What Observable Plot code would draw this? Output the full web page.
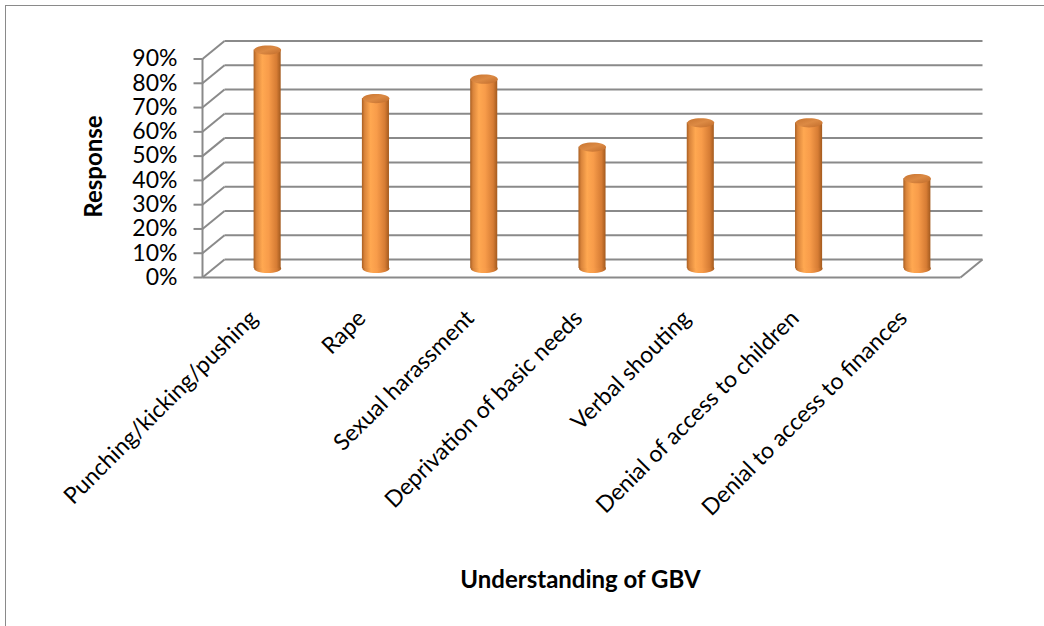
<!DOCTYPE html>
<html>
<head>
<meta charset="utf-8">
<script src="https://cdn.jsdelivr.net/npm/d3@7"></script>
<script src="https://cdn.jsdelivr.net/npm/@observablehq/plot@0.6"></script>
<style>
  html, body { margin: 0; padding: 0; background: #fff; overflow: hidden; }
  #wrap { position: relative; width: 1044px; height: 626px; }
  #border { position: absolute; left: 5px; top: 5px; width: 1100px; height: 700px;
            border-left: 1.5px solid #8a8a8a; border-top: 1.5px solid #8a8a8a; pointer-events: none; }
  svg { display: block; }
</style>
</head>
<body>
<div id="wrap"><div id="border"></div></div>
<script>
// Understanding of GBV — share of responses per category
const categories = [
  "Punching/kicking/pushing",
  "Rape",
  "Sexual harassment",
  "Deprivation of basic needs",
  "Verbal shouting",
  "Denial of access to children",
  "Denial to access to finances"
];
const responses = [0.90, 0.70, 0.78, 0.50, 0.60, 0.60, 0.37];
const yTicks = [0, 0.1, 0.2, 0.3, 0.4, 0.5, 0.6, 0.7, 0.8, 0.9];

const rows = categories.map((category, i) => ({category, i, value: responses[i]}));

// Oblique 3-D box: half depth of the box, expressed in scale units
const DX = 0.1016;   // along x (category bands)
const DY = 0.0371;   // along y (response share)
const HALF = 0.125;  // half width of a cylinder, in bands
const TICK = 0.083;  // length of the axis tick marks, in bands
const X0 = -0.5, X1 = categories.length - 0.5;

// ellipse used for the cylinder caps and bases
const ellipse = {
  draw(ctx) {
    const rx = 13.5, ry = 4.6, k = 0.5523;
    ctx.moveTo(rx, 0);
    ctx.bezierCurveTo(rx, k * ry, k * rx, ry, 0, ry);
    ctx.bezierCurveTo(-k * rx, ry, -rx, k * ry, -rx, 0);
    ctx.bezierCurveTo(-rx, -k * ry, -k * rx, -ry, 0, -ry);
    ctx.bezierCurveTo(k * rx, -ry, rx, -k * ry, rx, 0);
    ctx.closePath();
  }
};

const grid = "#8a8a8a";
const font = "Lato, 'Open Sans', sans-serif";

const chart = Plot.plot({
  width: 1044,
  height: 626,
  marginLeft: 213,
  marginRight: 73,
  marginTop: 49.5,
  marginBottom: 358,
  style: {fontFamily: font, color: "#000", background: "transparent"},
  x: {type: "linear", domain: [X0, X1], range: [213, 971], axis: null},
  y: {type: "linear", domain: [0, 0.9], range: [268, 49.5], axis: null},
  marks: [
    // back wall gridlines
    Plot.link(yTicks, {x1: () => X0 + DX, x2: () => X1 + DX, y1: d => d + DY, y2: d => d + DY,
      stroke: grid, strokeWidth: 2}),
    // side wall: front edge to back wall at each tick
    Plot.link(yTicks, {x1: () => X0 - DX, x2: () => X0 + DX, y1: d => d - DY, y2: d => d + DY,
      stroke: grid, strokeWidth: 2}),
    // front vertical axis line
    Plot.link([0], {x1: () => X0 - DX, x2: () => X0 - DX, y1: () => -DY, y2: () => 0.9 - DY,
      stroke: grid, strokeWidth: 2}),
    // axis tick marks
    Plot.link(yTicks, {x1: () => X0 - DX - TICK, x2: () => X0 - DX, y1: d => d - DY, y2: d => d - DY,
      stroke: grid, strokeWidth: 2}),
    // floor: front edge and right edge
    Plot.link([0], {x1: () => X0 - DX, x2: () => X1 - DX, y1: () => -DY, y2: () => -DY,
      stroke: grid, strokeWidth: 2}),
    Plot.link([0], {x1: () => X1 - DX, x2: () => X1 + DX, y1: () => -DY, y2: () => DY,
      stroke: grid, strokeWidth: 2}),
    // cylinders: base, body, cap
    Plot.dot(rows, {x: "i", y: () => 0, r: 1, symbol: ellipse, fill: "url(#bodyGrad)", stroke: "none"}),
    Plot.rectY(rows, {x1: d => d.i - HALF, x2: d => d.i + HALF, y1: () => 0, y2: "value",
      fill: "url(#bodyGrad)", insetLeft: 0, insetRight: 0}),
    Plot.dot(rows, {x: "i", y: "value", r: 1, symbol: ellipse, fill: "url(#capGrad)", stroke: "none"}),
    // y tick labels
    Plot.text(yTicks, {x: () => X0 - DX, y: d => d - DY, text: d3.format(".0%"),
      textAnchor: "end", dx: -25, fontSize: 23, fill: "#000"}),
    // category labels
    Plot.text(rows, {x: d => d.i - DX, y: () => -DY, text: "category", rotate: -45,
      textAnchor: "end", dx: -3, dy: 37, fontSize: 23, fill: "#000"}),
    // axis titles
    Plot.text(["Response"], {x: () => X0, y: () => 0.42, text: d => d, rotate: -90,
      dx: -119, fontSize: 24, fontWeight: "bold", fill: "#000"}),
    Plot.text(["Understanding of GBV"], {x: () => 3, y: () => -DY, text: d => d,
      dx: -12, dy: 303, fontSize: 24, fontWeight: "bold", fill: "#000"})
  ]
});

d3.select(chart).insert("defs", ":first-child").html(`
  <linearGradient id="bodyGrad" x1="0" x2="1" y1="0" y2="0">
    <stop offset="0" stop-color="#a95f22"/>
    <stop offset="0.1" stop-color="#d9843b"/>
    <stop offset="0.32" stop-color="#ffa851"/>
    <stop offset="0.55" stop-color="#f89c4a"/>
    <stop offset="0.85" stop-color="#d67c34"/>
    <stop offset="1" stop-color="#a35a1e"/>
  </linearGradient>
  <linearGradient id="capGrad" x1="0" x2="1" y1="0" y2="1">
    <stop offset="0" stop-color="#c87430"/>
    <stop offset="0.5" stop-color="#dc8a44"/>
    <stop offset="1" stop-color="#c06b2a"/>
  </linearGradient>
`);

document.getElementById("wrap").prepend(chart);
</script>
</body>
</html>
